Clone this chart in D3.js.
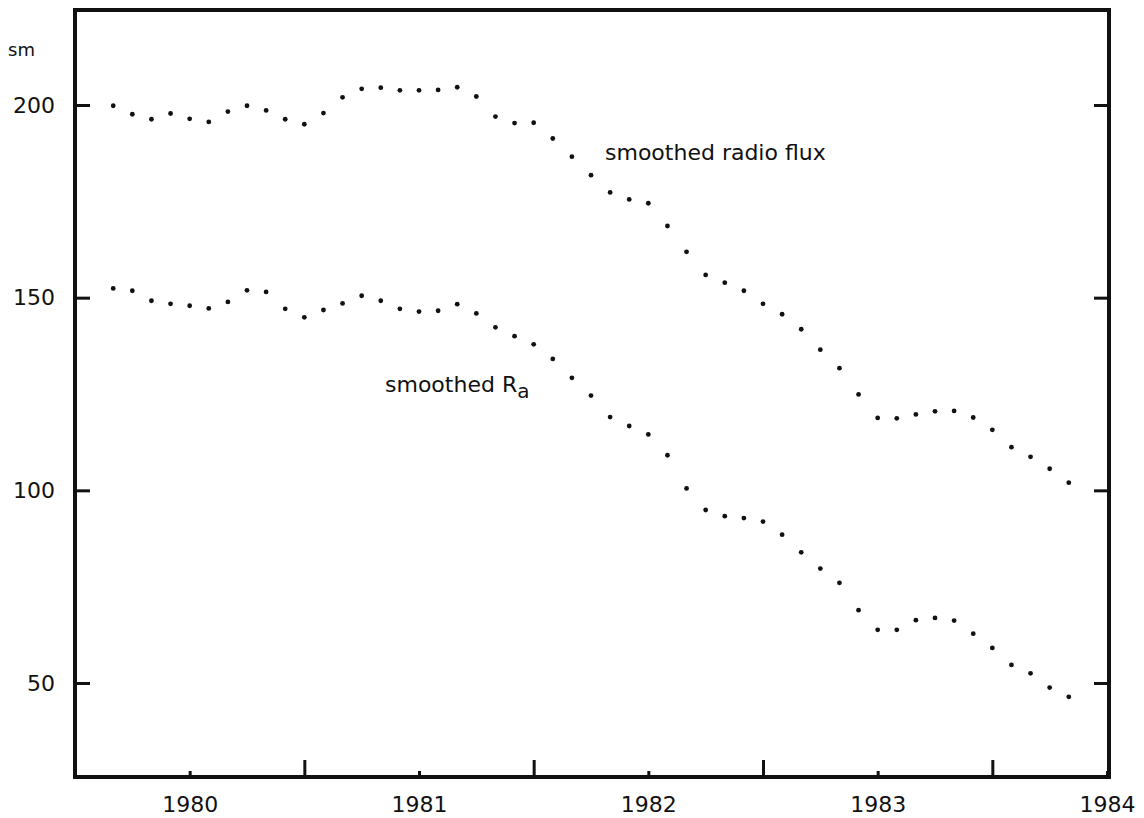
<!DOCTYPE html>
<html>
<head>
<meta charset="utf-8">
<title>Smoothed radio flux and smoothed Ra</title>
<script src="https://d3js.org/d3.v7.min.js"></script>
<style>
  body { margin: 0; background: #fff; }
  svg text { font-family: "DejaVu Sans", sans-serif; fill: #111; }
  .axis path { display: none; }
  .axis line { stroke: #111; stroke-width: 3; }
</style>
</head>
<body>
<script>
// monthly points, first at Sep 1979
var startYear = 1979 + 8 / 12
var radioFlux = [199.8, 197.6, 196.3, 197.8, 196.4, 195.6, 198.3, 199.8, 198.6, 196.3,
  195.0, 197.9, 202.0, 204.2, 204.5, 203.8, 203.8, 203.9, 204.6, 202.2,
  197.0, 195.3, 195.4, 191.3, 186.6, 181.8, 177.3, 175.5, 174.5, 168.6,
  161.9, 155.9, 153.9, 151.8, 148.4, 145.7, 141.8, 136.5, 131.7, 124.9,
  118.8, 118.7, 119.7, 120.5, 120.6, 118.9, 115.7, 111.2, 108.7, 105.6, 102.0]
var sunspotRa = [152.4, 151.8, 149.2, 148.4, 147.9, 147.2, 148.9, 151.9, 151.5, 147.1,
  144.9, 146.8, 148.5, 150.5, 149.2, 147.1, 146.4, 146.6, 148.3, 145.9,
  142.3, 140.0, 137.9, 134.1, 129.2, 124.6, 119.0, 116.7, 114.5, 109.1,
  100.5, 94.9, 93.3, 92.8, 91.9, 88.5, 83.9, 79.7, 76.0, 68.9,
  63.8, 63.8, 66.3, 66.9, 66.2, 62.8, 59.1, 54.7, 52.5, 48.8, 46.4]
var yearTicks = [1980, 1981, 1982, 1983, 1984]
var halfYearTicks = [1980.5, 1981.5, 1982.5, 1983.5]
var yTicks = [50, 100, 150, 200]

var W = 1144, H = 818
var plotLeft = 75, plotRight = 1109, plotTop = 10, plotBottom = 777

var x = d3.scaleLinear().domain([1979.5, 1984]).range([plotLeft, 1107])
var y = d3.scaleLinear().domain([50, 200]).range([683, 105])

var svg = d3.select('body').append('svg')
  .attr('width', W).attr('height', H)

// frame
svg.append('rect')
  .attr('x', plotLeft).attr('y', plotTop)
  .attr('width', plotRight - plotLeft).attr('height', plotBottom - plotTop)
  .attr('fill', 'none').attr('stroke', '#111').attr('stroke-width', 4)

// left axis with labels
svg.append('g').attr('class', 'axis')
  .attr('transform', 'translate(' + plotLeft + ',0)')
  .call(d3.axisLeft(y).tickValues(yTicks).tickSize(-15).tickPadding(20))
  .selectAll('text').style('font-size', '22px')

// right axis, ticks only
svg.append('g').attr('class', 'axis')
  .attr('transform', 'translate(' + plotRight + ',0)')
  .call(d3.axisRight(y).tickValues(yTicks).tickSize(-15).tickFormat(''))

// bottom: short ticks at years, long ticks at half years
svg.append('g').attr('class', 'axis')
  .attr('transform', 'translate(0,' + plotBottom + ')')
  .call(d3.axisBottom(x).tickValues(yearTicks).tickSize(-6).tickPadding(19).tickFormat(d3.format('d')))
  .selectAll('text').style('font-size', '22px')

svg.append('g').attr('class', 'axis')
  .attr('transform', 'translate(0,' + plotBottom + ')')
  .call(d3.axisBottom(x).tickValues(halfYearTicks).tickSize(-17).tickFormat(''))

svg.append('text').attr('x', 8).attr('y', 56)
  .style('font-size', '18px').text('sm')

function month(i) { return startYear + i / 12 }

// dotted series
;[radioFlux, sunspotRa].forEach(function (series) {
  svg.append('g').selectAll('circle')
    .data(series)
    .enter()
    .append('circle')
    .attr('cx', function (d, i) { return x(month(i)) })
    .attr('cy', function (d) { return y(d) })
    .attr('r', 2.4)
    .attr('fill', '#111')
})

// labels
svg.append('text').attr('x', 605).attr('y', 160)
  .style('font-size', '22px').text('smoothed radio flux')

var ra = svg.append('text').attr('x', 385).attr('y', 392).style('font-size', '22px')
ra.append('tspan').text('smoothed R')
ra.append('tspan').attr('dy', 6).style('font-size', '20px').text('a')
</script>
</body>
</html>
